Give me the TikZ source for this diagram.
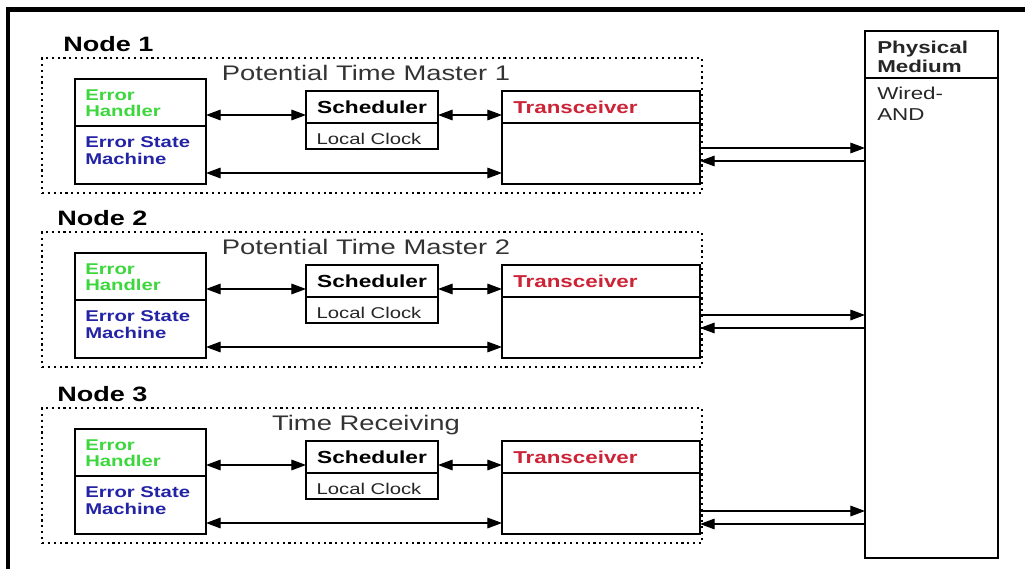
\documentclass[tikz,border=0pt]{standalone}
\usepackage{fontspec}
\setmainfont{Liberation Sans}[FakeStretch=1.3]
\usetikzlibrary{arrows.meta,fit}
\definecolor{ehgreen}{RGB}{60,215,60}
\definecolor{esblue}{RGB}{35,35,165}
\definecolor{trred}{RGB}{205,35,55}
\newcommand{\nodeblock}[6]{%
  % #1 index, #2 top of group, #3 title, #4 label x, #5/#6 y of medium links
  \node[grp, fit={(42,#2) (702,{#2+135})}] (g#1) {};
  \node[lbl] (n#1) at (#4,{#2-7}) {Node #1};
  \node[ttl] (t#1) at (366,{#2+22}) {#3};
  \node[box, fit={(75,{#2+21}) (206,{#2+126})}] (eh#1) {};
  \node[box, fit={(306,{#2+33}) (438,{#2+91})}] (sc#1) {};
  \node[box, fit={(502,{#2+33}) (700,{#2+126})}] (tr#1) {};
  \draw[sep] (75,{#2+68}) -- (206,{#2+68});
  \draw[sep] (306,{#2+65}) -- (438,{#2+65});
  \draw[sep] (502,{#2+65}) -- (700,{#2+65});
  \node[ehtxt] (eha#1) at (85,{#2+42}) {Error};
  \node[ehtxt] (ehb#1) at (85,{#2+58}) {Handler};
  \node[estxt] (esa#1) at (85,{#2+89}) {Error State};
  \node[estxt] (esb#1) at (85,{#2+106}) {Machine};
  \node[schtxt] (sct#1) at (372,{#2+55}) {Scheduler};
  \node[lctxt] (lc#1) at (369,{#2+86}) {Local Clock};
  \node[trtxt] (trt#1) at (513,{#2+55}) {Transceiver};
  \coordinate (ua#1) at (0,{#2+57});
  \coordinate (la#1) at (0,{#2+115});
  \coordinate (ma#1) at (0,#5);
  \coordinate (mb#1) at (0,#6);
  \draw[conn] (eh#1.east |- ua#1) -- (sc#1.west |- ua#1);
  \draw[conn] (sc#1.east |- ua#1) -- (tr#1.west |- ua#1);
  \draw[conn] (eh#1.east |- la#1) -- (tr#1.west |- la#1);
  \draw[one] (tr#1.east |- ma#1) -- (pm.west |- ma#1);
  \draw[one] (pm.west |- mb#1) -- (tr#1.east |- mb#1);
}
\begin{document}
\begin{tikzpicture}[x=0.75pt,y=-0.75pt,
  box/.style={draw, line width=0.9pt, inner sep=0pt, outer sep=0pt},
  grp/.style={draw, line width=0.8pt, dash pattern=on 1.6pt off 2.8pt, inner sep=0pt, outer sep=0pt},
  sep/.style={line width=0.9pt},
  tip/.tip={Triangle[length=11pt,width=8pt]},
  conn/.style={line width=0.85pt, tip-tip},
  one/.style={line width=0.85pt, -tip},
  lbl/.style={anchor=base west, inner sep=0pt, font=\bfseries\fontsize{15.6}{17}\selectfont},
  ttl/.style={anchor=base, inner sep=0pt, font=\fontsize{15.8}{17}\selectfont, text=black!80},
  ehtxt/.style={anchor=base west, inner sep=0pt, font=\bfseries\fontsize{11.7}{13}\selectfont, text=ehgreen},
  estxt/.style={anchor=base west, inner sep=0pt, font=\bfseries\fontsize{11.7}{13}\selectfont, text=esblue},
  schtxt/.style={anchor=base, inner sep=0pt, font=\bfseries\fontsize{13.1}{15}\selectfont},
  lctxt/.style={anchor=base, inner sep=0pt, font=\fontsize{11.7}{13}\selectfont, text=black!85},
  trtxt/.style={anchor=base west, inner sep=0pt, font=\bfseries\fontsize{12.9}{15}\selectfont, text=trred},
  pmtxt/.style={anchor=base west, inner sep=0pt, font=\bfseries\fontsize{12.9}{15}\selectfont, text=black!85},
  pmtxtr/.style={anchor=base west, inner sep=0pt, font=\fontsize{12.9}{15}\selectfont, text=black!85},
]
\useasboundingbox[fill=white] (0,0) rectangle (1025,569);
\draw[line width=3.4pt] (8,569) -- (8,9.5) -- (1025,9.5);
% physical medium
\node[box, fit={(865,31) (998,558)}] (pm) {};
\draw[sep] (865,78) -- (998,78);
\node[pmtxt] (pma) at (877,53) {Physical};
\node[pmtxt] (pmb) at (877,72) {Medium};
\node[pmtxtr] (pmc) at (877,99) {Wired-};
\node[pmtxtr] (pmd) at (877,120) {AND};
\nodeblock{1}{58}{Potential Time Master 1}{63}{148}{161}
\nodeblock{2}{232}{Potential Time Master 2}{57}{315}{328}
\nodeblock{3}{408}{Time Receiving}{57}{511}{524}
\end{tikzpicture}
\end{document}
